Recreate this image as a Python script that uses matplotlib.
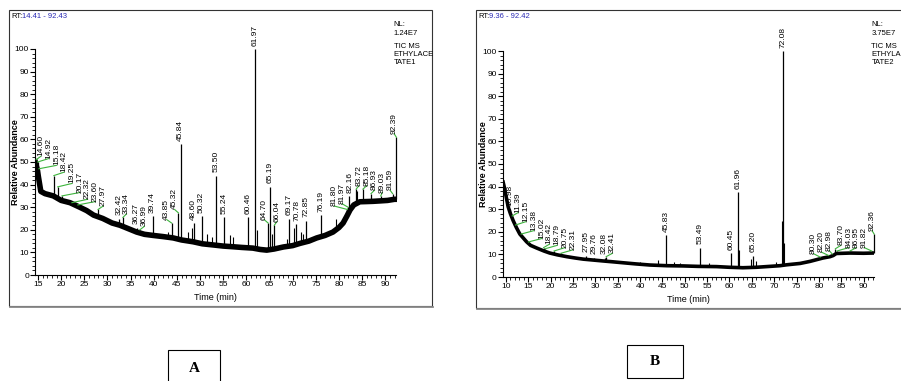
import matplotlib
matplotlib.use('Agg')
import matplotlib.pyplot as plt
import numpy as np
from matplotlib.patches import Rectangle
from matplotlib.lines import Line2D
from matplotlib.ticker import MultipleLocator

plt.rcParams['font.family'] = ['Liberation Sans Narrow', 'Liberation Sans', 'DejaVu Sans']

# ---- panel A : ethyl acetate 1 ----
a_rt_range = (14.41, 92.43)
a_base_t = [14.41, 14.8, 15.2, 15.6, 16.5, 18.3, 20.0, 21.9, 24.0, 25.5, 27.0, 29.0, 31.0,
            32.7, 34.5, 36.3, 38.0, 39.9, 42.0, 44.2, 46.0, 48.5, 50.5, 52.8, 55.0, 57.1,
            59.0, 61.4, 63.0, 64.4, 66.0, 68.0, 70.0, 71.6, 73.5, 75.2, 77.0, 78.7, 80.0,
            80.9, 81.7, 82.4, 83.2, 84.5, 86.0, 87.4, 89.0, 90.5, 92.0, 92.43]
a_base_v = [50, 47, 42, 37, 36, 35, 33, 32, 30, 28.5, 26.5, 25, 23,
            22, 20.5, 19, 18, 17.5, 17, 16.4, 15.5, 14.7, 13.8, 13.3, 12.8, 12.5,
            12.2, 11.9, 11.3, 11, 11.5, 12.4, 13, 14, 15, 16.4, 17.5, 19, 21,
            23, 26, 28.8, 31, 32.4, 32.5, 32.6, 32.8, 33, 33.5, 33.5]
a_peak_t = [14.60, 14.92, 15.18, 18.42, 19.25, 20.17, 22.32, 23.60, 27.97, 32.42, 33.34,
            36.27, 36.99, 39.74, 43.85, 45.32, 45.84, 48.60, 50.32, 53.50, 55.24, 60.46,
            61.97, 64.70, 65.19, 66.04, 69.17, 70.78, 72.85, 76.19, 81.80, 81.97, 82.16,
            83.72, 85.18, 86.93, 89.03, 91.59, 92.39]
a_peak_h = [51, 50, 47, 44, 39, 35, 32, 31, 29, 25, 25.5,
            21, 20, 26, 23, 27.5, 58, 23, 26, 44, 25.5, 25.5,
            100, 23, 39, 22, 25, 22.5, 24, 26.5, 29, 30, 35,
            38, 38, 36, 35, 36, 61]
a_small_t = [43.0, 47.5, 48.3, 51.5, 52.5, 56.5, 57.2, 62.3, 65.5, 68.8, 70.3, 71.8, 72.3, 79.4, 83.9]
a_small_h = [19, 19, 21, 18, 17, 17.5, 17, 20, 18, 16, 21, 19, 18, 25, 37]
a_xticks = [15, 20, 25, 30, 35, 40, 45, 50, 55, 60, 65, 70, 75, 80, 85, 90]
a_nl = ['NL:', '1.24E7', 'TIC MS', 'ETHYLACE', 'TATE1']

# ---- panel B : ethyl acetate 2 ----
b_rt_range = (9.36, 92.42)
b_base_t = [9.36, 9.6, 10.0, 10.5, 11.0, 11.6, 12.3, 13.1, 14.6, 15.5, 16.9, 18.5, 19.8,
            21.5, 23.6, 25.5, 27.3, 29.5, 31.7, 34.0, 36.2, 39.0, 42.2, 46.0, 49.6, 53.0,
            57.1, 60.0, 63.0, 66.0, 68.3, 71.3, 72.8, 75.8, 78.0, 80.9, 82.5, 83.2, 83.9,
            85.5, 87.0, 90.0, 92.1, 92.42]
b_base_v = [42, 40, 36, 31, 28, 25, 22, 19, 15.6, 14, 12.8, 11.5, 10.6,
            9.8, 9.0, 8.4, 7.9, 7.5, 7.1, 6.7, 6.3, 5.8, 5.3, 5.0, 4.9, 4.7,
            4.6, 4.3, 4.1, 4.3, 4.6, 5.0, 5.4, 6.0, 6.9, 8.4, 9.0, 9.5, 10.4,
            10.5, 10.6, 10.5, 10.6, 10.6]
b_peak_t = [10.98, 11.39, 12.15, 13.38, 15.02, 18.42, 18.79, 20.75, 22.31, 27.95, 29.76,
            32.08, 32.41, 45.83, 53.49, 60.45, 61.96, 65.20, 72.08, 80.30, 82.20, 82.98,
            83.70, 84.03, 86.95, 91.82, 92.36]
b_peak_h = [30, 27, 23, 19, 15.5, 13, 12.5, 11.5, 10.5, 9.5, 8.5,
            8.5, 9, 18.5, 13, 10.5, 37.5, 9.5, 100, 8.8, 9.5, 10.2,
            12.5, 11.5, 11.5, 11.5, 19]
b_small_t = [40.0, 44.0, 47.5, 49.0, 55.5, 62.1, 64.8, 66.0, 70.5, 71.7, 72.3]
b_small_h = [6.5, 7.5, 6.5, 6, 6, 12, 8, 7, 6.5, 25, 15]
b_xticks = [10, 15, 20, 25, 30, 35, 40, 45, 50, 55, 60, 65, 70, 75, 80, 85, 90]
b_nl = ['NL:', '3.75E7', 'TIC MS', 'ETHYLACE', 'TATE2']

yticks = [0, 10, 20, 30, 40, 50, 60, 70, 80, 90, 100]

W, H = 901, 381
GREEN = '#3cb43c'
BLUE = '#2a2ab4'

fig = plt.figure(figsize=(9.01, 3.81), dpi=100)


def fx(px):
    return px / W


def fy(py):
    return 1 - py / H


def place_labels(pt, ph, pb, gap, lo, hi, pad, length):
    # keep labels from running into other labels or into the neighbouring peak sticks
    n = len(pt)
    y0 = [h + pad for h in ph]
    y1 = [h + pad + length for h in ph]
    gs = 0.8 * gap

    def lab_lab(i, j):
        return y0[i] < y1[j] and y0[j] < y1[i]

    def lab_stick(i, k):
        return y0[i] < ph[k] and pb[k] < y1[i]

    x = list(pt)
    for i in range(n):
        v = max(pt[i], lo)
        for j in range(i):
            if lab_lab(i, j):
                v = max(v, x[j] + gap)
            if lab_stick(i, j):
                v = max(v, pt[j] + gs)
        x[i] = v
    for i in range(n - 1, -1, -1):
        v = min(x[i], hi)
        for k in range(i + 1, n):
            if lab_lab(i, k):
                v = min(v, x[k] - gap)
            if lab_stick(i, k):
                v = min(v, pt[k] - gs)
        x[i] = v
    return x


def panel(box, frame, rt_range, base_t, base_v, peak_t, peak_h, small_t, small_h,
          xticks, nl, band_lw):
    left, right, bottom, top = box
    ax = fig.add_axes([fx(left), fy(bottom), fx(right) - fx(left), fy(top) - fy(bottom)])
    ax.set_facecolor('none')
    ax.set_xlim(*rt_range)
    ax.set_ylim(0, 100)

    ax.plot(base_t, base_v, color='black', lw=band_lw, solid_joinstyle='round', zorder=3)
    pb = np.interp(peak_t, base_t, base_v)
    ax.vlines(peak_t, pb, peak_h, color='black', lw=0.9, zorder=3, clip_on=False)
    sb = np.interp(small_t, base_t, base_v)
    ax.vlines(small_t, sb, small_h, color='black', lw=0.8, zorder=3)

    # peak labels
    px_per_min = (right - left) / (rt_range[1] - rt_range[0])
    px_per_unit = (bottom - top) / 100
    gap = 7.8 / px_per_min
    pad = 1.5
    lx = place_labels(peak_t, peak_h, pb, gap, rt_range[0] + 0.7 * gap,
                      rt_range[1] - 0.3 * gap, pad, 19 / px_per_unit)
    for t, h, x in zip(peak_t, peak_h, lx):
        if abs(x - t) > 0.3:
            ax.plot([t, x], [h, h + pad], color=GREEN, lw=0.8, zorder=4, clip_on=False)
        ax.text(x, h + pad, f'{t:.2f}', rotation=90, ha='center', va='bottom',
                fontsize=6, clip_on=False, zorder=5)

    for s in ['top', 'right']:
        ax.spines[s].set_visible(False)
    ax.set_xticks(xticks)
    ax.set_yticks(yticks)
    ax.xaxis.set_minor_locator(MultipleLocator(1))
    ax.yaxis.set_minor_locator(MultipleLocator(2))
    ax.tick_params(which='major', length=3.5, width=0.8, labelsize=6, pad=1)
    ax.tick_params(which='minor', length=2.2, width=0.6)
    ax.text(-20 / (right - left), 0.5, 'Relative Abundance', transform=ax.transAxes,
            rotation=90, ha='center', va='center', fontsize=6.5, fontweight='bold')
    ax.text(0.5, -22 / (bottom - top), 'Time (min)', transform=ax.transAxes,
            ha='center', va='center', fontsize=6.5)

    # surrounding frame and header text
    fl, fr, ft, fb = frame
    fig.add_artist(Rectangle((fx(fl), fy(fb)), fx(fr) - fx(fl), fy(ft) - fy(fb),
                             transform=fig.transFigure, fill=False, ec='#333333', lw=0.8))
    fig.add_artist(Line2D([fx(fl + 1), fx(fr + 1)], [fy(fb + 1), fy(fb + 1)],
                          transform=fig.transFigure, color='#888888', lw=1.3))
    fig.text(fx(fl + 2), fy(ft + 7), 'RT:', fontsize=5.5, va='center')
    fig.text(fx(fl + 13), fy(ft + 7), f'{rt_range[0]:.2f} - {rt_range[1]:.2f}',
             fontsize=5.5, va='center', color=BLUE)
    fig.text(fx(right - 3), fy(ft + 11), '\n'.join(nl[:2]), fontsize=5.5, va='top',
             linespacing=1.4)
    fig.text(fx(right - 3), fy(ft + 33), '\n'.join(nl[2:]), fontsize=5.5, va='top',
             linespacing=1.15)
    return ax


panel((35.3, 396.5, 275, 49), (9, 432, 10, 306), a_rt_range, a_base_t, a_base_v,
      a_peak_t, a_peak_h, a_small_t, a_small_h, a_xticks, a_nl, 4.0)
panel((503.1, 874.4, 277, 51), (476, 905, 10, 308), b_rt_range, b_base_t, b_base_v,
      b_peak_t, b_peak_h, b_small_t, b_small_h, b_xticks, b_nl, 2.6)

# panel letters in boxes
for name, (l, r, t, b) in [('A', (168, 220, 350, 384)), ('B', (627, 683, 345, 378))]:
    fig.add_artist(Rectangle((fx(l), fy(b)), fx(r) - fx(l), fy(t) - fy(b),
                             transform=fig.transFigure, fill=False, ec='black', lw=0.8))
    fig.text(fx((l + r) / 2), fy((t + b) / 2 + (1 if name == 'A' else 0)), name,
             ha='center', va='center', fontsize=11, fontweight='bold',
             family=['Liberation Serif', 'DejaVu Serif'])

fig.savefig('out.png', dpi=100)
